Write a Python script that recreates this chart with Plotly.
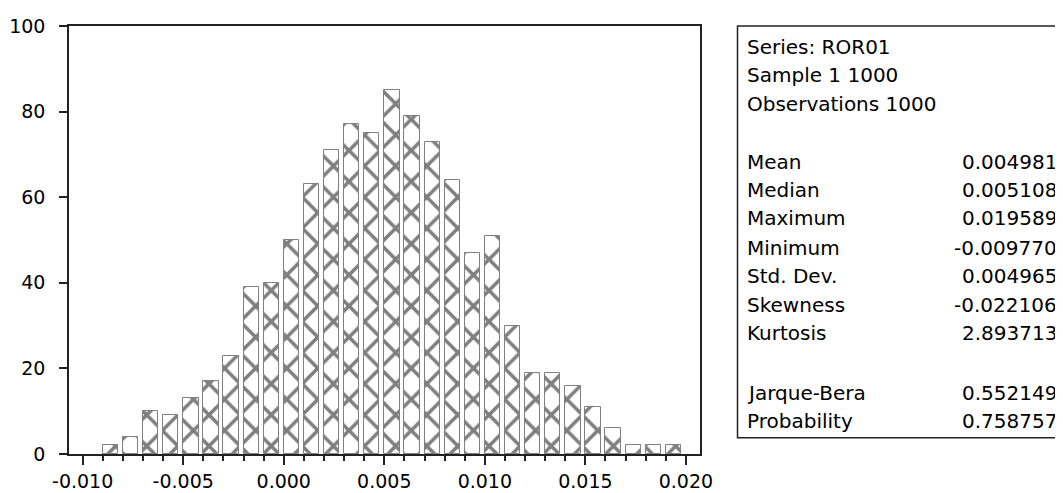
import plotly.graph_objects as go

# ---- data ----
bin_start = [-0.009, -0.008, -0.007, -0.006, -0.005, -0.004, -0.003, -0.002, -0.001,
             0.000, 0.001, 0.002, 0.003, 0.004, 0.005, 0.006, 0.007, 0.008, 0.009,
             0.010, 0.011, 0.012, 0.013, 0.014, 0.015, 0.016, 0.017, 0.018, 0.019]
counts = [2, 4, 10, 9, 13, 17, 23, 39, 40,
          50, 63, 71, 77, 75, 85, 79, 73, 64, 47,
          51, 30, 19, 19, 16, 11, 6, 2, 2, 2]

header_lines = ["Series: ROR01", "Sample 1 1000", "Observations 1000"]
stat_labels = ["Mean", "Median", "Maximum", "Minimum", "Std. Dev.", "Skewness", "Kurtosis"]
stat_values = ["0.004981", "0.005108", "0.019589", "-0.009770", "0.004965", "-0.022106", "2.893713"]
test_labels = ["Jarque-Bera", "Probability"]
test_values = ["0.552149", "0.758757"]

x_ticks = [-0.010, -0.005, 0.000, 0.005, 0.010, 0.015, 0.020]
x_tick_text = ["-0.010", "-0.005", "0.000", "0.005", "0.010", "0.015", "0.020"]
y_ticks = [0, 20, 40, 60, 80, 100]

FONT = "DejaVu Sans"
FS = 19
FS_BOX = 20

# ---- layout geometry (pixels, in page coordinates of the target) ----
W, H = 1063, 493
OFF = 8  # the page body adds an 8px margin around the figure
PL, PR, PT, PB = 69 - OFF, 700 - OFF, 25.5 - OFF, 454.5 - OFF
pw, ph = PR - PL, PB - PT


def px_to_paper_x(x):
    return (x - OFF - PL) / pw


def px_to_paper_y(y):
    return (PB - (y - OFF)) / ph


fig = go.Figure()
fig.add_trace(go.Bar(
    x=bin_start,
    y=counts,
    width=0.00076,
    offset=0,
    marker=dict(
        color="white",
        line=dict(color="#808080", width=1),
        pattern=dict(shape="x", fgcolor="black", bgcolor="white", size=22, solidity=0.3),
    ),
    showlegend=False,
    hoverinfo="x+y",
))

annotations = []
row_y_header = [46.7, 75.0, 103.3]
row_y_stats = [161.7, 190.0, 218.3, 248.0, 276.5, 305.0, 333.3]
row_y_tests = [393.3, 421.0]
text_left = 745
text_right = 1059

for txt, yy in zip(header_lines, row_y_header):
    annotations.append(dict(x=px_to_paper_x(text_left), y=px_to_paper_y(yy), xref="paper", yref="paper",
                            text=txt, showarrow=False, xanchor="left", yanchor="middle",
                            font=dict(family=FONT, size=FS_BOX, color="black")))
for labs, vals, ys in ((stat_labels, stat_values, row_y_stats), (test_labels, test_values, row_y_tests)):
    for lab, val, yy in zip(labs, vals, ys):
        annotations.append(dict(x=px_to_paper_x(text_left), y=px_to_paper_y(yy), xref="paper", yref="paper",
                                text=lab, showarrow=False, xanchor="left", yanchor="middle",
                                font=dict(family=FONT, size=FS_BOX, color="black")))
        annotations.append(dict(x=px_to_paper_x(text_right), y=px_to_paper_y(yy), xref="paper", yref="paper",
                                text=val, showarrow=False, xanchor="right", yanchor="middle",
                                font=dict(family=FONT, size=FS_BOX, color="black")))

shapes = [
    dict(type="rect", xref="paper", yref="paper",
         x0=px_to_paper_x(737.5), x1=px_to_paper_x(1061), y0=px_to_paper_y(438.3), y1=px_to_paper_y(25.5),
         line=dict(color="#222222", width=1.5), fillcolor="rgba(0,0,0,0)"),
]

fig.update_layout(
    width=W, height=H,
    margin=dict(l=PL, r=W - PR, t=PT, b=H - PB, pad=0, autoexpand=False),
    paper_bgcolor="white", plot_bgcolor="white",
    font=dict(family=FONT, size=FS, color="black"),
    bargap=0,
    annotations=annotations,
    shapes=shapes,
)

fig.update_xaxes(
    automargin=False,
    range=[-0.01068, 0.02070],
    tickvals=x_ticks, ticktext=x_tick_text,
    ticks="outside", ticklen=9, tickwidth=1.5, tickcolor="#222222",
    minor=dict(dtick=0.001, tick0=0, ticks="outside", ticklen=5, tickwidth=1.5, tickcolor="#222222"),
    showline=True, linecolor="#222222", linewidth=1.5, mirror=True,
    showgrid=False, zeroline=False,
    ticklabelstandoff=0,
    tickfont=dict(family=FONT, size=FS, color="black"),
)
fig.update_yaxes(
    automargin=False,
    range=[0, 100],
    tickvals=y_ticks,
    ticks="outside", ticklen=8, tickwidth=1.5, tickcolor="#222222",
    showline=True, linecolor="#222222", linewidth=1.5, mirror=True,
    showgrid=False, zeroline=False,
    ticklabelstandoff=10,
    tickfont=dict(family=FONT, size=FS, color="black"),
)

fig.write_html("out.html")
